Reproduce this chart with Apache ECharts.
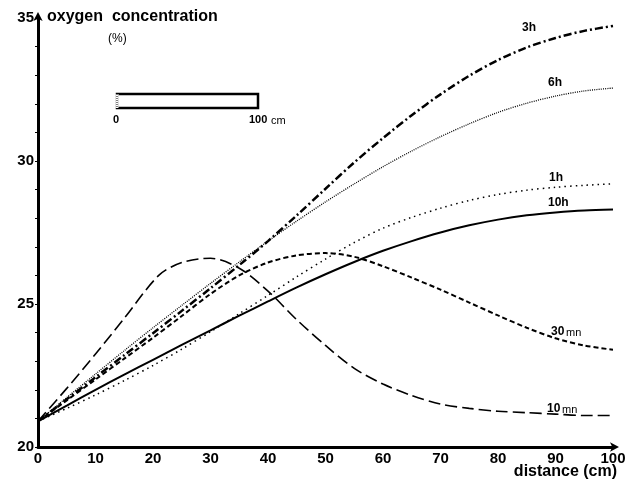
<!DOCTYPE html>
<html>
<head>
<meta charset="utf-8">
<script src="https://cdn.jsdelivr.net/npm/echarts@6/dist/echarts.min.js"></script>
<style>
html,body{margin:0;padding:0;background:#fff;}
#chart{width:631px;height:486px;}
</style>
</head>
<body>
<div id="chart"></div>
<script>
// distances (cm)
const distance = [0,5,10,15,20,25,30,35,40,45,50,55,60,65,70,75,80,85,90,95,100];
const distance10mn = [0,5,10,15,21,25,30,35,40,45,50,55,60,65,70,75,80,85,90,95,100];
// oxygen concentration (%)
const o2_10mn = [20.9,22.05,23.25,24.5,26.0,26.45,26.6,26.25,25.45,24.45,23.55,22.75,22.2,21.8,21.5,21.35,21.25,21.2,21.15,21.1,21.1];
const o2_30mn = [20.9,21.63,22.36,23.09,23.82,24.58,25.35,26.0,26.45,26.7,26.78,26.65,26.32,25.92,25.5,25.05,24.6,24.17,23.8,23.55,23.4];
const o2_1h   = [20.9,21.35,21.82,22.32,22.85,23.42,24.03,24.66,25.3,25.95,26.57,27.15,27.65,28.03,28.35,28.62,28.83,28.98,29.08,29.15,29.2];
const o2_3h   = [20.9,21.67,22.44,23.21,23.98,24.76,25.55,26.36,27.2,28.1,29.03,29.95,30.8,31.6,32.33,32.98,33.53,33.97,34.3,34.55,34.72];
const o2_6h   = [20.9,21.73,22.55,23.37,24.17,24.95,25.72,26.47,27.2,27.9,28.57,29.2,29.8,30.35,30.85,31.3,31.7,32.02,32.27,32.45,32.55];
const o2_10h  = [20.9,21.45,22.0,22.53,23.05,23.57,24.08,24.59,25.09,25.58,26.04,26.47,26.86,27.2,27.5,27.75,27.95,28.1,28.2,28.27,28.3];
const xTicks = [0,10,20,30,40,50,60,70,80,90,100];
const yTicks = [20,25,30,35];

const pairs = (xs, ys) => xs.map((x,i)=>[x, ys[i]]);

const chart = echarts.init(document.getElementById('chart'));
const bold = {fontFamily:'Liberation Sans', fontWeight:'bold', color:'#000'};

function line(name, xs, ys, type, width){
  return {
    name, type:'line', data: pairs(xs, ys), smooth:0.3, symbol:'none',
    lineStyle:{color:'#000', width, type}
  };
}

chart.setOption({
  animation:false,
  backgroundColor:'#fff',
  grid:{left:38, right:18, top:18, bottom:39},
  xAxis:{
    type:'value', min:0, max:100, interval:10,
    axisLine:{show:true, lineStyle:{color:'#000', width:3}, symbol:['none','arrow'], symbolSize:[7,9], symbolOffset:[0,6]},
    axisTick:{show:false},
    splitLine:{show:false},
    axisLabel:Object.assign({fontSize:15, margin:4, formatter:v=>xTicks.includes(v)?String(v):''}, bold)
  },
  yAxis:{
    type:'value', min:20, max:35, interval:5,
    axisLine:{show:true, lineStyle:{color:'#000', width:3}, symbol:['none','arrow'], symbolSize:[7,9], symbolOffset:[0,6]},
    axisTick:{show:true, inside:false, length:3, lineStyle:{color:'#000', width:1}},
    minorTick:{show:true, splitNumber:5, length:3, lineStyle:{color:'#000', width:1}},
    splitLine:{show:false},
    axisLabel:Object.assign({fontSize:15, margin:4, formatter:v=>yTicks.includes(v)?String(v):''}, bold)
  },
  series:[
    line('10mn', distance10mn, o2_10mn, [12,5], 1.6),
    line('30mn', distance, o2_30mn, [5,3], 2),
    line('1h', distance, o2_1h, [1.5,4], 1.5),
    line('3h', distance, o2_3h, [8,3,2,3], 2.5),
    line('6h', distance, o2_6h, [1,1.2], 1.3),
    line('10h', distance, o2_10h, 'solid', 2)
  ],
  graphic:[
    {type:'text', left:47, top:9, style:Object.assign({text:'oxygen  concentration', fontSize:16, fill:'#000'}, bold)},
    {type:'text', left:108, top:33, style:{text:'(%)', fontSize:12, fill:'#000', fontFamily:'Liberation Sans'}},
    {type:'text', right:14, top:464, style:Object.assign({text:'distance (cm)', fontSize:16, fill:'#000'}, bold)},
    // scale bar
    {type:'rect', shape:{x:117, y:94, width:141, height:14}, style:{fill:'#fff', stroke:'#000', lineWidth:2.5}},
    {type:'line', shape:{x1:117, y1:94, x2:117, y2:108}, style:{stroke:'#fff', lineWidth:3}},
    {type:'line', shape:{x1:117, y1:94, x2:117, y2:108}, style:{stroke:'#000', lineWidth:1, lineDash:[1,1]}},
    {type:'text', left:113, top:114, style:{text:'0', fontSize:11, fill:'#000', fontFamily:'Liberation Sans', fontWeight:'bold'}},
    {type:'text', left:249, top:114, style:{text:'100', fontSize:11, fill:'#000', fontFamily:'Liberation Sans', fontWeight:'bold'}},
    {type:'text', left:271, top:115, style:{text:'cm', fontSize:11, fill:'#000', fontFamily:'Liberation Sans'}},
    // curve labels
    {type:'text', left:522, top:22, style:Object.assign({text:'3h', fontSize:12}, bold)},
    {type:'text', left:548, top:77, style:Object.assign({text:'6h', fontSize:12}, bold)},
    {type:'text', left:549, top:172, style:Object.assign({text:'1h', fontSize:12}, bold)},
    {type:'text', left:548, top:197, style:Object.assign({text:'10h', fontSize:12}, bold)},
    {type:'text', left:551, top:326, style:Object.assign({text:'30', fontSize:12}, bold)},
    {type:'text', left:566, top:327, style:{text:'mn', fontSize:11, fill:'#000', fontFamily:'Liberation Sans'}},
    {type:'text', left:547, top:403, style:Object.assign({text:'10', fontSize:12}, bold)},
    {type:'text', left:562, top:404, style:{text:'mn', fontSize:11, fill:'#000', fontFamily:'Liberation Sans'}}
  ]
});
</script>
</body>
</html>
